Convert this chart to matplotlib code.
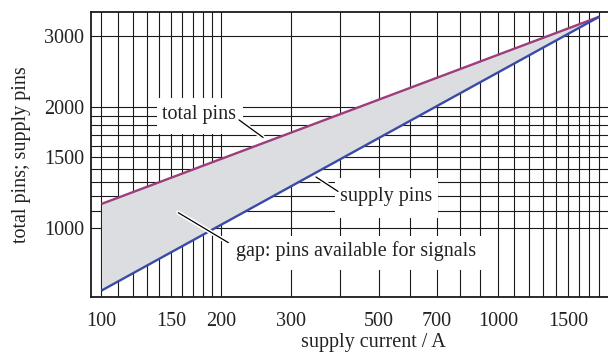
import matplotlib.pyplot as plt
import matplotlib.patheffects as pe
from matplotlib.patches import Rectangle

# supply current (A) vs. number of package pins
current = [100, 1800]
total_pins = [1147, 3344]
supply_pins = [699, 3344]

x_ticks = [100, 150, 200, 300, 500, 700, 1000, 1500]
y_ticks = [1000, 1500, 2000, 3000]
grid_x = list(range(100, 201, 10)) + list(range(300, 1801, 100))
grid_y = list(range(1000, 2001, 100)) + [3000]

plt.rcParams['font.family'] = ['Liberation Serif', 'DejaVu Serif']
plt.rcParams['font.size'] = 14.5

fig = plt.figure(figsize=(6.08, 3.54), dpi=100)
W, H = 608, 354
L, R, T, B = 91, 608, 11.7, 296.7
ax = fig.add_axes([L / W, 1 - B / H, (R - L) / W, (B - T) / H])
ax.set_xscale('log')
ax.set_yscale('log')
ax.set_xlim(94.1, 1893)
ax.set_ylim(675, 3441)

# grid
for gx in grid_x:
    ax.axvline(gx, color='#1a1a1a', lw=0.8, zorder=0.5)
for gy in grid_y:
    ax.axhline(gy, color='#1a1a1a', lw=0.8, zorder=0.5)

ax.set_xticks(x_ticks)
ax.set_xticklabels([str(v) for v in x_ticks])
ax.set_yticks(y_ticks)
ax.set_yticklabels([str(v) for v in y_ticks])
ax.minorticks_off()
ax.tick_params(axis='x', length=0, pad=11, colors='#222222')
ax.tick_params(axis='y', length=0, pad=5, colors='#222222')
for s in ['left', 'bottom', 'top']:
    ax.spines[s].set_linewidth(1.3)
    ax.spines[s].set_color('#1a1a1a')
ax.spines['right'].set_visible(False)


# white label boxes that blank out the grid (pixel extents)
def blank(x0, y0, x1, y1):
    ax.add_patch(Rectangle(((x0 - L) / (R - L), (B - y1) / (B - T)),
                           (x1 - x0) / (R - L), (y1 - y0) / (B - T),
                           transform=ax.transAxes, facecolor='white',
                           edgecolor='none', zorder=1))


blank(157, 98, 243, 134)
blank(335, 178, 438, 218)
blank(228, 236, 483, 270)

ax.fill_between(current, supply_pins, total_pins, color='#dcdde0', zorder=2, lw=0)
ax.plot(current, total_pins, color='#9c3d7c', lw=1.7, zorder=3,
        solid_capstyle='butt')
ax.plot(current, supply_pins, color='#3a4aa8', lw=1.7, zorder=3,
        solid_capstyle='butt')

halo = [pe.Stroke(linewidth=3.2, foreground='white'), pe.Normal()]
arrow = dict(arrowstyle='-', color='black', lw=0.9, path_effects=halo,
             shrinkA=0, shrinkB=0)
ax.annotate('', xy=(255.5, 1677), xytext=(222.2, 1854), arrowprops=arrow, zorder=4)
ax.annotate('', xy=(394.9, 1232), xytext=(347.4, 1338), arrowprops=arrow, zorder=4)
ax.annotate('', xy=(208.8, 919.5), xytext=(156.2, 1091), arrowprops=arrow, zorder=4)

ax.text(176.1, 1907, 'total pins', ha='center', va='center', color='#222222', zorder=5)
ax.text(523.1, 1194, 'supply pins', ha='center', va='center', color='#222222', zorder=5)
ax.text(439.5, 877, 'gap: pins available for signals', ha='center', va='center',
        color='#222222', zorder=5)

ax.set_xlabel('supply current / A', color='#222222', va='center')
ax.xaxis.set_label_coords((373 - L) / (R - L), -(342 - B) / (B - T))
ax.set_ylabel('total pins; supply pins', color='#222222', va='center')
ax.yaxis.set_label_coords(-(L - 22) / (R - L), 0.5)

fig.savefig('out.png', dpi=100)
